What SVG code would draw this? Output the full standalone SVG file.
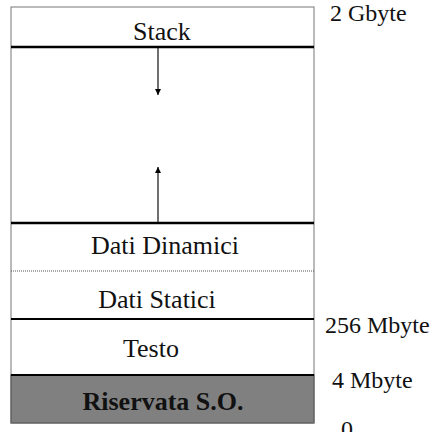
<svg xmlns="http://www.w3.org/2000/svg" width="432" height="432" viewBox="0 0 432 432">
<defs>
<marker id="ah" viewBox="0 0 10 10" refX="10" refY="5" markerWidth="6" markerHeight="6" markerUnits="userSpaceOnUse" orient="auto"><path d="M0,0 L10,5 L0,10 z" fill="#000"/></marker>
</defs>
<style>
.t{font-family:"Liberation Serif","Times New Roman",serif;font-size:26px;fill:#111;text-anchor:middle}
.b{font-weight:bold}
.l{font-family:"Liberation Serif","Times New Roman",serif;font-size:24px;fill:#111}
.thick{stroke:#000;stroke-width:2.5}
.mid{stroke:#000;stroke-width:1.8}
</style>
<rect width="432" height="432" fill="#fff"/>
<g id="riservata">
<rect x="11" y="375" width="303" height="48" fill="#808080" stroke="#333" stroke-width="1"/>
<text class="t b" x="163" y="410">Riservata S.O.</text>
</g>
<g id="frame">
<rect x="11" y="7" width="303" height="416" fill="none" stroke="#777" stroke-width="1"/>
</g>
<g id="stack">
<text class="t" x="162" y="40">Stack</text>
</g>
<g id="dinamici">
<text class="t" x="165" y="254">Dati Dinamici</text>
</g>
<g id="statici">
<text class="t" x="157" y="308">Dati Statici</text>
</g>
<g id="testo">
<text class="t" x="151" y="357">Testo</text>
</g>
<g id="dividers">
<line class="thick" x1="11" y1="47" x2="314" y2="47"/>
<line class="thick" x1="11" y1="223" x2="314" y2="223"/>
<line x1="11" y1="271" x2="314" y2="271" stroke="#555" stroke-width="1" stroke-dasharray="1,1"/>
<line class="mid" x1="11" y1="319" x2="314" y2="319"/>
<line class="mid" x1="11" y1="375" x2="314" y2="375"/>
</g>
<g id="labels">
<text class="l" x="330" y="21">2 Gbyte</text>
<text class="l" x="325" y="333">256 Mbyte</text>
<text class="l" x="332" y="388">4 Mbyte</text>
<text class="l" x="341" y="437">0</text>
</g>
<g id="connectors">
<line x1="158" y1="48" x2="158" y2="95" stroke="#222" stroke-width="1.3" marker-end="url(#ah)"/>
<line x1="158" y1="222" x2="158" y2="167" stroke="#222" stroke-width="1.3" marker-end="url(#ah)"/>
</g>
</svg>
